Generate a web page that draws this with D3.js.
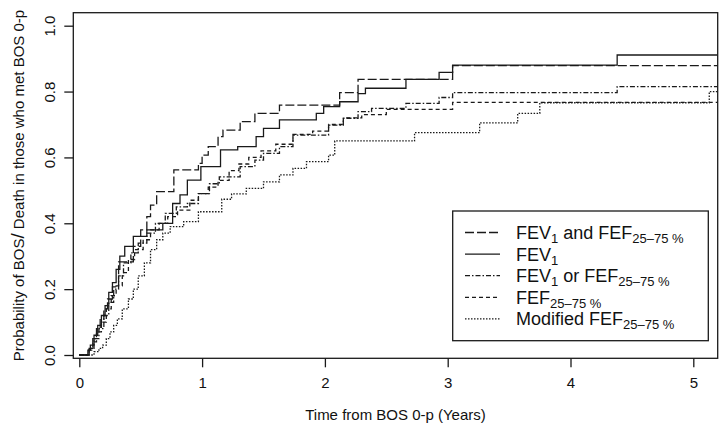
<!DOCTYPE html>
<html><head><meta charset="utf-8">
<script src="https://cdn.jsdelivr.net/npm/d3@7"></script>
<style>body{margin:0;background:#fff}svg{display:block}text{font-family:"Liberation Sans",Arial,sans-serif;fill:#111}</style>
</head><body><svg id="c" width="720" height="432"></svg>
<script>
// ---- data (time in years, cumulative probability) ----
const xTicks = [0, 1, 2, 3, 4, 5];
const yTicks = [0.0, 0.2, 0.4, 0.6, 0.8, 1.0];
const seriesNames = ["FEV1 and FEF", "FEV1", "FEV1 or FEF", "FEF", "Modified FEF"];

const andTimes = [0,0.08,0.11,0.14,0.17,0.2,0.23,0.27,0.32,0.44,0.5,0.55,0.58,0.63,0.77,0.97,1.0,1.05,1.13,1.17,1.31,1.43,1.63,2.12,2.27,3.04];
const andProb  = [0,0.02,0.05,0.08,0.11,0.14,0.17,0.207,0.283,0.33,0.38,0.42,0.455,0.496,0.562,0.582,0.607,0.633,0.663,0.683,0.709,0.734,0.759,0.797,0.837,0.879];

const fev1Times = [0,0.07,0.09,0.12,0.15,0.18,0.21,0.24,0.27,0.3,0.33,0.37,0.44,0.55,0.68,0.76,0.82,0.88,0.99,1.15,1.29,1.44,1.5,1.63,1.93,1.99,2.12,2.27,2.33,2.66,2.93,3.04,4.38];
const fev1Prob  = [0,0.015,0.03,0.06,0.09,0.12,0.15,0.19,0.22,0.26,0.3,0.33,0.36,0.38,0.4,0.46,0.486,0.531,0.572,0.623,0.633,0.663,0.688,0.714,0.734,0.754,0.769,0.794,0.81,0.837,0.858,0.88,0.911];

const orTimes = [0,0.08,0.12,0.16,0.2,0.24,0.28,0.32,0.36,0.42,0.48,0.55,0.62,0.7,0.79,0.88,0.97,1.06,1.14,1.31,1.43,1.5,1.63,1.74,2.03,2.15,2.27,2.38,2.66,2.93,3.04,4.38];
const orProb  = [0,0.02,0.05,0.08,0.12,0.16,0.2,0.24,0.28,0.31,0.34,0.37,0.4,0.43,0.45,0.46,0.49,0.52,0.541,0.572,0.592,0.612,0.633,0.668,0.698,0.719,0.739,0.749,0.764,0.782,0.797,0.815];

const fefTimes = [0,0.08,0.11,0.14,0.18,0.22,0.26,0.3,0.35,0.4,0.45,0.52,0.58,0.65,0.72,0.8,0.9,0.97,1.05,1.13,1.22,1.3,1.38,1.48,1.6,1.74,1.9,2.03,2.15,2.3,2.5,3.04];
const fefProb  = [0,0.015,0.04,0.07,0.1,0.14,0.18,0.21,0.25,0.29,0.32,0.35,0.38,0.4,0.42,0.44,0.47,0.49,0.51,0.53,0.56,0.58,0.6,0.62,0.64,0.67,0.68,0.7,0.72,0.73,0.746,0.767];

const modTimes = [0,0.12,0.16,0.19,0.22,0.25,0.28,0.31,0.35,0.4,0.44,0.48,0.53,0.58,0.63,0.68,0.74,0.85,0.97,1.16,1.24,1.36,1.5,1.63,1.74,1.85,2.03,2.08,2.73,3.26,3.57,3.75,5.13];
const modProb  = [0,0.01,0.02,0.03,0.05,0.07,0.09,0.11,0.14,0.17,0.2,0.24,0.28,0.32,0.35,0.37,0.39,0.405,0.435,0.473,0.489,0.506,0.526,0.547,0.567,0.587,0.607,0.65,0.675,0.705,0.734,0.766,0.80];

const endTime = 5.2;

// ---- layout ----
const svg = d3.select("#c");
const box = {l: 73.3, r: 717.7, t: 12.7, b: 358.3};
const x = d3.scaleLinear().domain([0, 5]).range([79.3, 693.3]);
const y = d3.scaleLinear().domain([0, 1]).range([355, 25.7]);

const series = [
  {t: andTimes, p: andProb, dash: "9,3"},
  {t: fev1Times, p: fev1Prob, dash: null},
  {t: orTimes, p: orProb, dash: "5,2,1.5,2"},
  {t: fefTimes, p: fefProb, dash: "4,3"},
  {t: modTimes, p: modProb, dash: "1.5,1.5"}
];

svg.append("clipPath").attr("id", "clip").append("rect")
  .attr("x", box.l).attr("y", box.t).attr("width", box.r - box.l).attr("height", box.b - box.t);

const line = d3.line().x(d => x(d[0])).y(d => y(d[1])).curve(d3.curveStepAfter);
const g = svg.append("g").attr("clip-path", "url(#clip)");
series.forEach(s => {
  const pts = s.t.map((t, i) => [t, s.p[i]]);
  pts.push([endTime, s.p[s.p.length - 1]]);
  g.append("path").attr("d", line(pts)).attr("fill", "none")
    .attr("stroke", "#1a1a1a").attr("stroke-width", 1.3)
    .attr("stroke-dasharray", s.dash);
});

// frame
svg.append("rect").attr("x", box.l).attr("y", box.t).attr("width", box.r - box.l).attr("height", box.b - box.t)
  .attr("fill", "none").attr("stroke", "#1a1a1a").attr("stroke-width", 1.3);

// x axis
const xa = svg.append("g").attr("transform", `translate(0,${box.b})`)
  .call(d3.axisBottom(x).tickValues(xTicks).tickSize(9).tickPadding(10).tickFormat(d3.format("d")));
xa.select(".domain").remove();
xa.selectAll("line").attr("stroke", "#1a1a1a").attr("stroke-width", 1.3);
xa.selectAll("text").attr("font-size", 15).attr("fill", "#111");

// y axis
const ya = svg.append("g").attr("transform", `translate(${box.l},0)`)
  .call(d3.axisLeft(y).tickValues(yTicks).tickSize(9).tickFormat(d3.format(".1f")));
ya.select(".domain").remove();
ya.selectAll("line").attr("stroke", "#1a1a1a").attr("stroke-width", 1.3);
ya.selectAll("text").remove();
ya.selectAll(".tick").append("text")
  .attr("transform", "translate(-18,0) rotate(-90)")
  .attr("text-anchor", "middle").attr("font-size", 15).attr("fill", "#111")
  .text(d => d3.format(".1f")(d));

// axis titles
svg.append("text").attr("x", (box.l + box.r) / 2).attr("y", 420).attr("text-anchor", "middle")
  .attr("font-size", 15).text("Time from BOS 0-p (Years)");
const yt = svg.append("text").attr("transform", `translate(24,${(box.t + box.b) / 2}) rotate(-90)`)
  .attr("text-anchor", "middle").attr("font-size", 15);
yt.append("tspan").text("Probability of BOS");
yt.append("tspan").attr("font-size", 19).text("/");
yt.append("tspan").text(" Death in those who met BOS 0-p");

// legend
const lg = {l: 452.7, r: 708.3, t: 211, b: 340.7};
svg.append("rect").attr("x", lg.l).attr("y", lg.t).attr("width", lg.r - lg.l).attr("height", lg.b - lg.t)
  .attr("fill", "#fff").attr("stroke", "#1a1a1a").attr("stroke-width", 1.3);
const labels = [
  [["FEV", 0], ["1", 1], [" and FEF", 0], ["25–75 %", 1]],
  [["FEV", 0], ["1", 1]],
  [["FEV", 0], ["1", 1], [" or FEF", 0], ["25–75 %", 1]],
  [["FEF", 0], ["25–75 %", 1]],
  [["Modified FEF", 0], ["25–75 %", 1]]
];
labels.forEach((parts, i) => {
  const yy = 232.5 + 21.6 * i;
  svg.append("line").attr("x1", 465).attr("x2", 500).attr("y1", yy).attr("y2", yy)
    .attr("stroke", "#1a1a1a").attr("stroke-width", 1.3).attr("stroke-dasharray", series[i].dash);
  const t = svg.append("text").attr("x", 516).attr("y", yy + 6.5).attr("font-size", 18);
  let sub = false;
  parts.forEach(([s, isSub]) => {
    const ts = t.append("tspan").text(s);
    if (isSub && !sub) { ts.attr("font-size", 13).attr("dy", 4); sub = true; }
    else if (!isSub && sub) { ts.attr("dy", -4); sub = false; }
  });
});
</script></body></html>
